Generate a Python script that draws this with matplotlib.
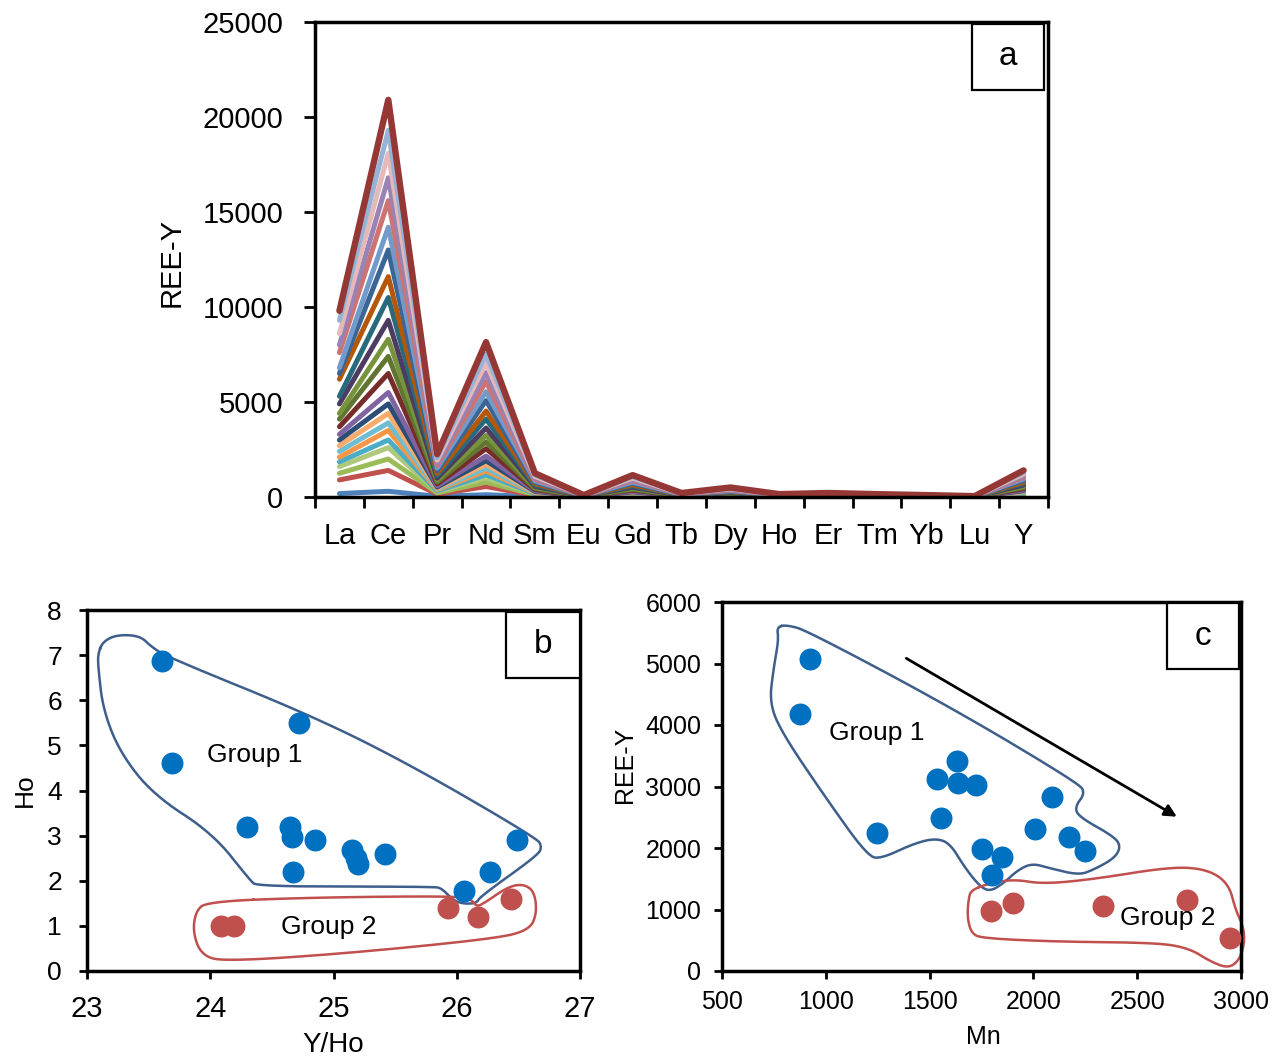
import numpy as np
import matplotlib
matplotlib.use("Agg")
import matplotlib.pyplot as plt
from matplotlib.patches import Rectangle

plt.rcParams["font.family"] = ["Liberation Sans", "DejaVu Sans"]

# ---- panel a: REE-Y patterns -------------------------------------------
elements = ["La", "Ce", "Pr", "Nd", "Sm", "Eu", "Gd", "Tb", "Dy", "Ho",
            "Er", "Tm", "Yb", "Lu", "Y"]

# one row per sample, bottom to top
ree_samples = [
    [180, 300, 35, 120, 18, 2, 17, 3, 8, 2, 3, 2, 2, 1, 25],
    [900, 1400, 150, 550, 85, 7, 77, 14, 34, 10, 14, 10, 7, 3, 95],
    [1250, 2000, 215, 780, 120, 10, 110, 20, 48, 14, 20, 14, 10, 4, 135],
    [1600, 2600, 280, 1010, 155, 13, 145, 26, 62, 18, 26, 18, 13, 5, 175],
    [1850, 3000, 320, 1170, 180, 15, 165, 30, 72, 21, 30, 21, 15, 6, 200],
    [2100, 3500, 375, 1370, 210, 18, 190, 35, 84, 25, 35, 25, 18, 7, 235],
    [2400, 3900, 420, 1520, 235, 20, 215, 39, 94, 27, 39, 27, 20, 8, 260],
    [2700, 4400, 470, 1720, 265, 22, 240, 44, 105, 31, 44, 31, 22, 9, 295],
    [3000, 4900, 525, 1910, 295, 25, 270, 49, 118, 34, 49, 34, 25, 10, 330],
    [3300, 5500, 590, 2150, 330, 28, 300, 55, 132, 38, 55, 38, 28, 11, 370],
    [3700, 6500, 695, 2540, 390, 33, 360, 65, 156, 45, 65, 45, 33, 13, 435],
    [4100, 7400, 790, 2890, 445, 37, 405, 74, 178, 52, 74, 52, 37, 15, 495],
    [4400, 8300, 890, 3240, 500, 42, 455, 83, 200, 58, 83, 58, 42, 17, 555],
    [4900, 9300, 995, 3630, 560, 47, 510, 93, 225, 65, 93, 65, 47, 19, 625],
    [5300, 10500, 1120, 4100, 630, 53, 580, 105, 250, 74, 105, 74, 53, 21, 705],
    [6200, 11600, 1240, 4520, 700, 58, 640, 116, 280, 81, 116, 81, 58, 23, 775],
    [6500, 13000, 1390, 5070, 780, 65, 715, 130, 310, 91, 130, 91, 65, 26, 870],
    [6800, 14200, 1520, 5540, 850, 71, 780, 142, 340, 99, 142, 99, 71, 28, 950],
    [7600, 15600, 1670, 6080, 935, 78, 860, 156, 375, 109, 156, 109, 78, 31, 1045],
    [8000, 16800, 1800, 6550, 1010, 84, 925, 168, 405, 118, 168, 118, 84, 34, 1125],
    [8600, 18100, 1940, 7060, 1085, 90, 995, 181, 435, 127, 181, 127, 90, 36, 1210],
    [9300, 19300, 2070, 7530, 1160, 96, 1060, 193, 465, 135, 193, 135, 96, 39, 1295],
    [9800, 20900, 2250, 8150, 1250, 100, 1150, 210, 500, 150, 210, 150, 100, 45, 1400],
]
ree_colors = ["#4F81BD", "#C0504D", "#9BBB59", "#AFC97A", "#4BACC6", "#F79646",
              "#6FBDD1", "#F9AB6B", "#2C4D75", "#8064A2", "#772C2A", "#5F7530",
              "#77933C", "#4D3B62", "#276A7C", "#B65708", "#3A6595", "#729ACA",
              "#CD7371", "#9983B5", "#E6B9B8", "#95B3D7", "#953735"]

# ---- panel b: Ho vs Y/Ho ------------------------------------------------
g1_yho = [23.61, 24.72, 23.69, 24.30, 24.65, 24.66, 24.85, 25.15, 25.18,
          25.20, 25.42, 24.67, 26.49, 26.27, 26.06]
g1_ho = [6.88, 5.5, 4.6, 3.2, 3.2, 2.98, 2.9, 2.68, 2.5, 2.38, 2.6, 2.2,
         2.9, 2.2, 1.78]
g2_yho = [24.09, 24.19, 25.93, 26.17, 26.44]
g2_ho = [1.0, 1.0, 1.4, 1.2, 1.6]

b_outline1_x = [23.09, 23.13, 23.24, 23.43, 23.52, 23.65, 24.84, 25.65, 26.65,
                26.69, 26.66, 26.19, 26.16, 26.05, 25.97, 25.88, 25.81, 24.38,
                24.32, 24.02, 23.54, 23.27, 23.13, 23.09]
b_outline1_y = [7.04, 7.30, 7.45, 7.43, 7.19, 6.96, 5.64, 4.53, 2.94, 2.76,
                2.57, 1.65, 1.50, 1.49, 1.57, 1.83, 1.87, 1.87, 2.02, 3.05,
                3.90, 4.83, 5.79, 6.75]
b_outline2_x = [23.97, 24.84, 25.92, 26.11, 26.15, 26.19, 26.41, 26.54, 26.63,
                26.65, 26.59, 26.32, 25.11, 24.11, 23.93, 23.86, 23.88]
b_outline2_y = [1.54, 1.63, 1.66, 1.61, 1.46, 1.44, 1.86, 1.93, 1.76, 1.28,
                0.91, 0.72, 0.39, 0.21, 0.35, 0.84, 1.31]

# ---- panel c: REE-Y vs Mn ----------------------------------------------
g1_mn = [924, 876, 1247, 1536, 1633, 1637, 1724, 1555, 1752, 1849, 1801,
         2090, 2008, 2171, 2249]
g1_ree = [5073, 4180, 2244, 3122, 3415, 3057, 3024, 2488, 1984, 1854, 1561,
          2829, 2309, 2179, 1951]
g2_mn = [1796, 1902, 2335, 2740, 2947]
g2_ree = [976, 1106, 1057, 1154, 537]

c_outline1_x = [764, 815, 910, 1598, 2218, 2249, 2200, 2218, 2390, 2421, 2390,
                2287, 2218, 2080, 1994, 1925, 1856, 1788, 1736, 1667, 1598,
                1529, 1426, 1271, 1203, 996, 790, 729, 747, 773]
c_outline1_y = [5598, 5626, 5533, 4298, 3052, 2889, 2672, 2509, 2184, 2021,
                1832, 1642, 1561, 1670, 1751, 1642, 1426, 1289, 1398, 1696,
                2076, 2158, 2076, 1832, 1858, 2834, 3865, 4353, 4894, 5382]
c_outline2_x = [1701, 1788, 1908, 2046, 2287, 2665, 2837, 2940, 2974, 3012,
                3017, 2992, 2940, 2854, 2751, 2596, 2114, 1753, 1701, 1681, 1688]
c_outline2_y = [1317, 1426, 1491, 1415, 1491, 1696, 1654, 1426, 992, 720, 450,
                179, 44, 151, 369, 460, 476, 532, 613, 883, 1182]
c_arrow_start = (1388, 5084)
c_arrow_end = (2691, 2509)

BLUE_PT = "#0070C0"
RED_PT = "#C0504D"
BLUE_LINE = "#3E5E8C"
RED_LINE = "#C0504D"

W, H = 1287, 1059


def rect(l, t, r, b):
    return [l / W, 1 - b / H, (r - l) / W, (b - t) / H]


def style(ax, size, length=6):
    for s in ax.spines.values():
        s.set_linewidth(2.5)
    ax.tick_params(direction="out", width=2, length=length, labelsize=size,
                   pad=5)


def smooth(xs, ys, n=3):
    # Chaikin corner cutting on the closed outline
    p = np.column_stack([xs, ys]).astype(float)
    for _ in range(n):
        q = np.roll(p, -1, axis=0)
        a = 0.75 * p + 0.25 * q
        b = 0.25 * p + 0.75 * q
        p = np.column_stack([a, b]).reshape(-1, 2)
    p = np.vstack([p, p[:1]])
    return p[:, 0], p[:, 1]


def label_box(ax, x0, y0, x1, y1, txt):
    ax.add_patch(Rectangle((x0, y0), x1 - x0, y1 - y0, transform=ax.transAxes,
                           fill=True, fc="white", ec="black", lw=1.6,
                           zorder=5, clip_on=False))
    ax.text((x0 + x1) / 2, (y0 + y1) / 2, txt, transform=ax.transAxes,
            ha="center", va="center", fontsize=24, zorder=6)


fig = plt.figure(figsize=(W / 100, H / 100), dpi=100)

# panel a
axa = fig.add_axes(rect(315, 22, 1048, 497))
xs = np.arange(len(elements))
for vals, col in zip(ree_samples, ree_colors):
    lw = 4.6 if col == "#953735" else 3.6
    axa.plot(xs, vals, color=col, lw=lw, solid_joinstyle="round",
             solid_capstyle="round")
axa.set_xlim(-0.5, len(elements) - 0.5)
axa.set_ylim(0, 25000)
axa.set_yticks(np.arange(0, 25001, 5000))
axa.set_xticks(np.arange(-0.5, len(elements)), labels=[])
axa.set_xticks(xs, labels=elements, minor=True)
style(axa, 21, length=8)
axa.tick_params(axis="y", pad=15)
axa.tick_params(axis="x", which="minor", length=0, pad=18, labelsize=21)
fig.text(172 / W, 1 - 262 / H, "REE-Y", rotation=90, ha="center",
         va="center", fontsize=21)
label_box(axa, 0.896, 0.857, 0.9945, 0.996, "a")

# panel b
axb = fig.add_axes(rect(87, 610, 580, 971))
axb.plot(*smooth(b_outline1_x, b_outline1_y), color=BLUE_LINE, lw=1.8,
         zorder=2)
axb.plot(*smooth(b_outline2_x, b_outline2_y), color=RED_LINE, lw=1.8,
         zorder=2)
axb.scatter(g1_yho, g1_ho, s=250, color=BLUE_PT, zorder=3, lw=0)
axb.scatter(g2_yho, g2_ho, s=250, color=RED_PT, zorder=3, lw=0)
axb.text(24.36, 4.79, "Group 1", ha="center", va="center", fontsize=19)
axb.text(24.96, 0.98, "Group 2", ha="center", va="center", fontsize=19)
axb.set_xlim(23, 27)
axb.set_ylim(0, 8)
axb.set_xticks(range(23, 28))
axb.set_yticks(range(0, 9))
style(axb, 19)
axb.tick_params(axis="x", labelsize=21, pad=11)
axb.tick_params(axis="y", pad=12)
fig.text(25 / W, 1 - 790 / H, "Ho", rotation=90, ha="center", va="center",
         fontsize=19)
fig.text(333 / W, 1 - 1045 / H, "Y/Ho", ha="center", va="center", fontsize=20)
label_box(axb, 0.85, 0.812, 1.0, 0.995, "b")

# panel c
axc = fig.add_axes(rect(722, 602, 1241, 971))
axc.plot(*smooth(c_outline1_x, c_outline1_y), color=BLUE_LINE, lw=1.8,
         zorder=2)
axc.plot(*smooth(c_outline2_x, c_outline2_y), color=RED_LINE, lw=1.8,
         zorder=2, clip_on=False)
axc.scatter(g1_mn, g1_ree, s=250, color=BLUE_PT, zorder=3, lw=0)
axc.scatter(g2_mn, g2_ree, s=250, color=RED_PT, zorder=3, lw=0)
axc.annotate("", xy=c_arrow_end, xytext=c_arrow_start,
             arrowprops=dict(arrowstyle="-|>", color="black", lw=2,
                             mutation_scale=18, shrinkA=0, shrinkB=0))
axc.text(1247, 3870, "Group 1", ha="center", va="center", fontsize=19)
axc.text(2648, 862, "Group 2", ha="center", va="center", fontsize=19,
         zorder=4)
axc.set_xlim(500, 3000)
axc.set_ylim(0, 6000)
axc.set_xticks(range(500, 3001, 500))
axc.set_yticks(range(0, 6001, 1000))
style(axc, 18)
axc.tick_params(axis="x", pad=8)
axc.tick_params(axis="y", pad=9)
fig.text(625 / W, 1 - 765 / H, "REE-Y", rotation=90, ha="center",
         va="center", fontsize=18)
fig.text(983 / W, 1 - 1037 / H, "Mn", ha="center", va="center", fontsize=18)
label_box(axc, 0.857, 0.818, 0.996, 0.997, "c")

fig.savefig("out.png", dpi=100)
